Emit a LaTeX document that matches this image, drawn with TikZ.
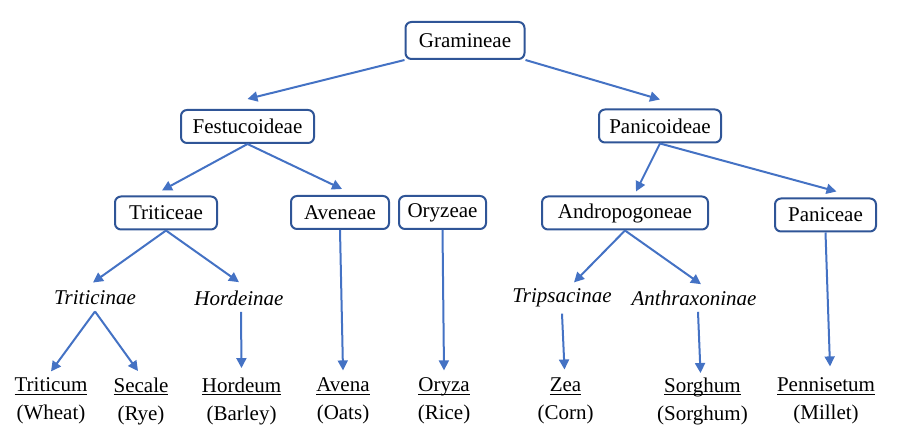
\documentclass[tikz,border=0pt]{standalone}
\usepackage{fontspec}
\setmainfont{Liberation Serif}
\usetikzlibrary{arrows.meta}
\definecolor{boxblue}{RGB}{47,85,151}
\definecolor{arrblue}{RGB}{68,114,196}
% underline at a fixed depth, through the descenders
\newcommand\gname[1]{\leavevmode\setbox0\hbox{#1}\rlap{\rule[-1.7pt]{\wd0}{0.5pt}}\box0}

\begin{document}
\begin{tikzpicture}[x=0.5pt,y=-0.5pt,
    font=\fontsize{10.5}{14}\selectfont,
    taxon/.style={draw=boxblue, line width=1pt, rounded corners=3pt,
      minimum height=16.5pt, inner xsep=2pt},
    subtribe/.style={font=\fontsize{10.5}{14}\selectfont\itshape, inner sep=3pt},
    genus/.style={align=center, inner sep=1pt},
    arr/.style={draw=arrblue, line width=1pt, -{Triangle[length=5pt,width=5pt]}}]

  \useasboundingbox (0,0) rectangle (900,437);

  % family, subfamilies, tribes
  \begin{scope}[every node/.style={taxon}]
    \node[minimum height=18.5pt, minimum width=59.5pt] (gram) at (465,40.5) {Gramineae};
    \node[minimum width=66.5pt] (fest) at (247.5,126.5) {Festucoideae};
    \node[minimum width=61pt]   (pani) at (660,126)     {Panicoideae};
    \node[minimum width=51pt]   (trit) at (166,213)     {Triticeae};
    \node[minimum width=49pt]   (avee) at (340,212.5)   {Aveneae};
    \node[minimum width=43.5pt] (oryz) at (442.5,212.5) {Oryzeae};
    \node[minimum width=83pt]   (andr) at (625,213)     {Andropogoneae};
    \node[minimum width=50.5pt] (panc) at (825.5,215)   {Paniceae};
  \end{scope}

  % subtribes
  \begin{scope}[every node/.style={subtribe}]
    \node (tnae) at (95,298)  {Triticinae};
    \node (hnae) at (239,298) {Hordeinae};
    \node (trip) at (562,298) {Tripsacinae};
    \node (anth) at (694,298) {Anthraxoninae};
  \end{scope}

  % genera
  \begin{scope}[every node/.style={genus}]
    \node (tcum) at (51,401)    {\gname{Triticum}\\(Wheat)};
    \node (seca) at (141,401)   {\gname{Secale}\\(Rye)};
    \node (hord) at (241.5,401) {\gname{Hordeum}\\(Barley)};
    \node (aven) at (343,401)   {\gname{Avena}\\(Oats)};
    \node (oryza) at (444,401)  {\gname{Oryza}\\(Rice)};
    \node (zea)  at (565.5,401) {\gname{Zea}\\(Corn)};
    \node (sorg) at (702.5,401) {\gname{Sorghum}\\(Sorghum)};
    \node (penn) at (826,401)   {\gname{Pennisetum}\\(Millet)};
  \end{scope}

  \draw[arr] (gram.south west) -- ([yshift=5pt]fest.north);
  \draw[arr] (gram.south east) -- ([yshift=4.5pt]pani.north);
  \draw[arr] (fest.south) -- ([xshift=-2pt,yshift=2.5pt]trit.north);
  \draw[arr] (fest.south) -- ([xshift=1pt,yshift=3pt]avee.north);
  \draw[arr] (pani.south) -- ([xshift=5.5pt,yshift=2pt]andr.north);
  \draw[arr] (pani.south) -- ([xshift=5.5pt,yshift=3pt]panc.north);
  \draw[arr] (trit.south) -- ([xshift=-1pt,yshift=1pt]tnae.north);
  \draw[arr] (trit.south) -- ([yshift=1pt]hnae.north);
  \draw[arr] (andr.south) -- ([xshift=6pt]trip.north);
  \draw[arr] (andr.south) -- ([xshift=3.5pt]anth.north);
  \draw[arr] (tnae.south) -- ([yshift=2pt]tcum.north);
  \draw[arr] (tnae.south) -- ([xshift=-1.5pt,yshift=2pt]seca.north);
  \draw[arr] ([xshift=1pt]hnae.south) -- ([yshift=3.5pt]hord.north);
  \draw[arr] (avee.south) -- ([yshift=2.5pt]aven.north);
  \draw[arr] (oryz.south) -- ([yshift=2.5pt]oryza.north);
  \draw[arr] (trip.south) -- ([xshift=-0.5pt,yshift=3pt]zea.north);
  \draw[arr] ([xshift=2pt]anth.south) -- ([xshift=-1pt,yshift=1pt]sorg.north);
  \draw[arr] (panc.south) -- ([xshift=2pt,yshift=4.5pt]penn.north);

\end{tikzpicture}
\end{document}
